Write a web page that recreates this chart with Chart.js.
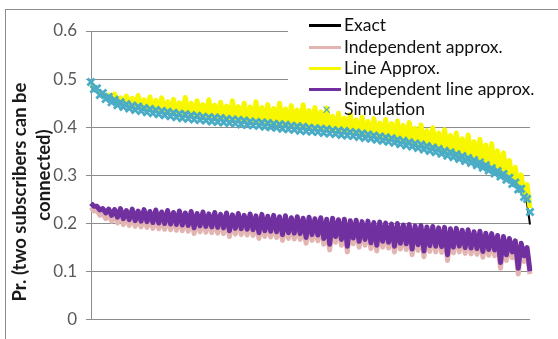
<!DOCTYPE html>
<html>
<head>
<meta charset="utf-8">
<script src="https://cdn.jsdelivr.net/npm/chart.js@4"></script>
<style>
  html, body { margin: 0; padding: 0; background: #fff; }
  #wrap { position: relative; width: 558px; height: 339px; overflow: hidden; font-family: Lato, "Open Sans", sans-serif; }
  #chart { position: absolute; left: 0; top: 0; }
  #frame { position: absolute; left: 5px; top: 9px; width: 700px; height: 500px; border: 1px solid #8c8c8c; }
  .ytitle { position: absolute; transform: translate(-50%, -50%) rotate(-90deg); white-space: nowrap;
            font-weight: bold; font-size: 18.5px; color: #1a1a1a; }
  #legendBg { position: absolute; left: 288px; top: 12px; width: 250px; height: 88px; background: #fff; }
  .lg-text { position: absolute; left: 344px; font-size: 17.5px; line-height: 20px; color: #111; white-space: nowrap; }
  .lg-line { position: absolute; left: 309px; width: 32px; height: 3px; }
  .lg-mark { position: absolute; left: 322px; font-size: 16px; line-height: 20px; color: #4bacc6; }
</style>
</head>
<body>
<div id="wrap">
  <div id="frame"></div>
  <canvas id="chart" width="558" height="339"></canvas>
  <div id="legendBg"></div>
  <div class="ytitle" style="left:19px; top:192px;">Pr. (two subscribers can be</div>
  <div class="ytitle" style="left:43px; top:175px;">connected)</div>
</div>
<script>
// Nombres y colores de las series
const seriesNames = ["Exact", "Independent approx.", "Line Approx.", "Independent line approx.", "Simulation"];
const seriesColors = ["#000000", "#e3b5b2", "#f7f700", "#7030a0", "#4bacc6"];
const yTicks = [0, 0.1, 0.2, 0.3, 0.4, 0.5, 0.6];

// Valores (150 puntos ordenados)
const exact = [
  0.492, 0.484, 0.477, 0.471, 0.466, 0.462, 0.459, 0.456, 0.453, 0.450,
  0.448, 0.446, 0.444, 0.443, 0.441, 0.440, 0.439, 0.437, 0.436, 0.435,
  0.434, 0.433, 0.432, 0.431, 0.430, 0.429, 0.428, 0.427, 0.426, 0.425,
  0.424, 0.423, 0.423, 0.422, 0.421, 0.420, 0.420, 0.419, 0.418, 0.418,
  0.417, 0.416, 0.416, 0.415, 0.415, 0.414, 0.413, 0.413, 0.412, 0.412,
  0.411, 0.410, 0.410, 0.409, 0.408, 0.408, 0.407, 0.407, 0.406, 0.405,
  0.405, 0.404, 0.403, 0.403, 0.402, 0.401, 0.401, 0.400, 0.399, 0.399,
  0.398, 0.397, 0.397, 0.396, 0.395, 0.395, 0.394, 0.394, 0.393, 0.392,
  0.392, 0.391, 0.390, 0.390, 0.389, 0.388, 0.388, 0.387, 0.386, 0.386,
  0.385, 0.384, 0.383, 0.382, 0.381, 0.380, 0.379, 0.378, 0.377, 0.376,
  0.375, 0.374, 0.373, 0.372, 0.370, 0.369, 0.368, 0.366, 0.365, 0.364,
  0.362, 0.361, 0.360, 0.358, 0.357, 0.355, 0.354, 0.352, 0.351, 0.349,
  0.347, 0.345, 0.344, 0.342, 0.340, 0.338, 0.336, 0.334, 0.332, 0.330,
  0.328, 0.325, 0.323, 0.320, 0.317, 0.314, 0.311, 0.308, 0.305, 0.302,
  0.299, 0.295, 0.291, 0.286, 0.281, 0.275, 0.268, 0.259, 0.242, 0.198
];

const independentApprox = [
  0.234, 0.226, 0.228, 0.217, 0.222, 0.210, 0.220, 0.205, 0.219, 0.201,
  0.221, 0.198, 0.217, 0.196, 0.220, 0.194, 0.216, 0.193, 0.219, 0.192,
  0.215, 0.190, 0.218, 0.189, 0.214, 0.188, 0.217, 0.187, 0.213, 0.186,
  0.216, 0.185, 0.212, 0.184, 0.215, 0.179, 0.211, 0.183, 0.214, 0.182,
  0.210, 0.181, 0.213, 0.180, 0.209, 0.179, 0.212, 0.173, 0.208, 0.178,
  0.211, 0.177, 0.207, 0.176, 0.210, 0.175, 0.206, 0.169, 0.209, 0.173,
  0.205, 0.172, 0.207, 0.171, 0.204, 0.165, 0.206, 0.169, 0.202, 0.168,
  0.204, 0.167, 0.201, 0.159, 0.203, 0.165, 0.200, 0.164, 0.202, 0.157,
  0.199, 0.145, 0.201, 0.161, 0.198, 0.155, 0.199, 0.141, 0.196, 0.158,
  0.197, 0.151, 0.194, 0.155, 0.195, 0.148, 0.192, 0.143, 0.193, 0.151,
  0.191, 0.149, 0.189, 0.141, 0.190, 0.147, 0.187, 0.146, 0.188, 0.135,
  0.185, 0.144, 0.186, 0.131, 0.183, 0.142, 0.184, 0.141, 0.181, 0.140,
  0.182, 0.123, 0.179, 0.139, 0.180, 0.141, 0.176, 0.138, 0.177, 0.137,
  0.173, 0.136, 0.174, 0.130, 0.170, 0.134, 0.169, 0.133, 0.165, 0.107,
  0.163, 0.123, 0.159, 0.129, 0.154, 0.095, 0.149, 0.121, 0.140, 0.095
];

const lineApprox = [
  0.488, 0.482, 0.476, 0.471, 0.468, 0.463, 0.467, 0.457, 0.469, 0.452,
  0.461, 0.450, 0.465, 0.447, 0.460, 0.444, 0.466, 0.442, 0.457, 0.439,
  0.463, 0.437, 0.456, 0.435, 0.461, 0.433, 0.453, 0.431, 0.458, 0.429,
  0.451, 0.427, 0.462, 0.426, 0.450, 0.424, 0.455, 0.423, 0.447, 0.421,
  0.457, 0.420, 0.446, 0.419, 0.452, 0.417, 0.444, 0.416, 0.455, 0.415,
  0.443, 0.414, 0.450, 0.412, 0.442, 0.411, 0.453, 0.410, 0.441, 0.409,
  0.447, 0.407, 0.439, 0.406, 0.450, 0.405, 0.438, 0.403, 0.445, 0.402,
  0.436, 0.401, 0.447, 0.399, 0.435, 0.398, 0.441, 0.397, 0.432, 0.396,
  0.440, 0.394, 0.423, 0.393, 0.429, 0.391, 0.419, 0.390, 0.426, 0.389,
  0.415, 0.387, 0.421, 0.385, 0.412, 0.383, 0.418, 0.380, 0.409, 0.379,
  0.416, 0.377, 0.408, 0.375, 0.413, 0.372, 0.404, 0.369, 0.410, 0.367,
  0.398, 0.364, 0.405, 0.361, 0.393, 0.358, 0.399, 0.355, 0.388, 0.352,
  0.395, 0.348, 0.383, 0.345, 0.388, 0.341, 0.376, 0.337, 0.384, 0.333,
  0.370, 0.328, 0.375, 0.323, 0.363, 0.317, 0.366, 0.311, 0.351, 0.305,
  0.347, 0.298, 0.331, 0.289, 0.317, 0.278, 0.301, 0.262, 0.281, 0.232
];

const independentLineApprox = [
  0.242, 0.236, 0.236, 0.228, 0.231, 0.222, 0.230, 0.217, 0.229, 0.213,
  0.231, 0.210, 0.227, 0.208, 0.230, 0.206, 0.226, 0.205, 0.229, 0.204,
  0.225, 0.202, 0.228, 0.201, 0.224, 0.200, 0.227, 0.199, 0.223, 0.198,
  0.226, 0.197, 0.222, 0.196, 0.225, 0.191, 0.221, 0.195, 0.224, 0.194,
  0.220, 0.193, 0.223, 0.192, 0.219, 0.191, 0.222, 0.185, 0.218, 0.190,
  0.221, 0.189, 0.217, 0.188, 0.220, 0.187, 0.216, 0.181, 0.219, 0.185,
  0.215, 0.184, 0.217, 0.183, 0.214, 0.177, 0.216, 0.181, 0.212, 0.180,
  0.214, 0.179, 0.211, 0.171, 0.213, 0.177, 0.210, 0.176, 0.212, 0.169,
  0.209, 0.157, 0.211, 0.173, 0.208, 0.167, 0.209, 0.153, 0.206, 0.170,
  0.207, 0.163, 0.204, 0.167, 0.205, 0.160, 0.202, 0.155, 0.203, 0.163,
  0.201, 0.161, 0.199, 0.153, 0.200, 0.159, 0.197, 0.158, 0.198, 0.147,
  0.195, 0.156, 0.196, 0.143, 0.193, 0.154, 0.194, 0.153, 0.191, 0.152,
  0.192, 0.135, 0.189, 0.151, 0.190, 0.153, 0.186, 0.150, 0.187, 0.149,
  0.183, 0.148, 0.184, 0.142, 0.180, 0.146, 0.179, 0.145, 0.175, 0.119,
  0.173, 0.135, 0.169, 0.141, 0.164, 0.107, 0.159, 0.133, 0.150, 0.101
];

const simulation = [
  0.494, 0.479, 0.481, 0.467, 0.471, 0.459, 0.463, 0.452, 0.457, 0.446,
  0.452, 0.442, 0.448, 0.439, 0.445, 0.436, 0.443, 0.434, 0.440, 0.431,
  0.438, 0.429, 0.436, 0.427, 0.434, 0.425, 0.432, 0.423, 0.430, 0.421,
  0.428, 0.419, 0.427, 0.418, 0.425, 0.416, 0.424, 0.415, 0.422, 0.414,
  0.421, 0.412, 0.420, 0.411, 0.419, 0.410, 0.417, 0.409, 0.416, 0.408,
  0.415, 0.406, 0.414, 0.405, 0.412, 0.404, 0.411, 0.403, 0.410, 0.401,
  0.409, 0.400, 0.407, 0.399, 0.406, 0.397, 0.405, 0.396, 0.403, 0.395,
  0.402, 0.393, 0.401, 0.392, 0.399, 0.391, 0.398, 0.390, 0.397, 0.388,
  0.396, 0.387, 0.394, 0.386, 0.393, 0.384, 0.392, 0.383, 0.390, 0.382,
  0.389, 0.380, 0.387, 0.378, 0.385, 0.376, 0.383, 0.374, 0.381, 0.372,
  0.379, 0.370, 0.377, 0.368, 0.374, 0.365, 0.372, 0.362, 0.369, 0.360,
  0.366, 0.357, 0.364, 0.354, 0.361, 0.351, 0.358, 0.348, 0.355, 0.345,
  0.351, 0.341, 0.348, 0.338, 0.344, 0.334, 0.340, 0.330, 0.336, 0.326,
  0.332, 0.321, 0.327, 0.316, 0.321, 0.310, 0.315, 0.304, 0.309, 0.298,
  0.303, 0.291, 0.295, 0.282, 0.285, 0.271, 0.272, 0.255, 0.251, 0.224
];

// Eje X: solo el indice de cada caso (sin etiquetas visibles)
const casos = exact.map((_, i) => i + 1);

const gridColor = "#8c8c8c";

function serieLinea(idx, datos, ancho, orden) {
  return {
    label: seriesNames[idx],
    data: datos,
    borderColor: seriesColors[idx],
    backgroundColor: seriesColors[idx],
    borderWidth: ancho,
    borderJoinStyle: "round",
    pointRadius: 0,
    tension: 0,
    fill: false,
    order: orden
  };
}

const ctx = document.getElementById("chart").getContext("2d");
new Chart(ctx, {
  type: "line",
  data: {
    labels: casos,
    datasets: [
      serieLinea(0, exact, 2, 5),
      serieLinea(1, independentApprox, 5, 4),
      serieLinea(2, lineApprox, 5, 3),
      serieLinea(3, independentLineApprox, 5, 2),
      {
        label: seriesNames[4],
        data: simulation,
        showLine: false,
        pointStyle: "crossRot",
        pointRadius: 5,
        pointBorderWidth: 2.8,
        borderColor: seriesColors[4],
        backgroundColor: seriesColors[4],
        order: 1
      }
    ]
  },
  options: {
    responsive: false,
    animation: false,
    layout: { padding: { left: 0, top: 31, right: 28, bottom: 9 } },
    plugins: { legend: { display: false }, tooltip: { enabled: false } },
    scales: {
      x: { display: false },
      y: {
        min: 0,
        max: 0.6,
        afterBuildTicks: s => { s.ticks = yTicks.map(v => ({ value: v })); },
        ticks: { color: "#595959", font: { family: "Lato", size: 17 }, padding: 9 },
        grid: { color: gridColor, tickColor: gridColor, tickLength: 5 },
        border: { color: gridColor },
        afterFit: s => { s.width = 91; }
      }
    }
  }
});

// Leyenda en HTML (arriba a la derecha)
const filas = [25, 47, 68, 89, 109];
const wrap = document.getElementById("wrap");
seriesNames.forEach((nombre, i) => {
  if (i < 4) {
    const l = document.createElement("div");
    l.className = "lg-line";
    l.style.top = (filas[i] - 1) + "px";
    l.style.background = seriesColors[i];
    wrap.appendChild(l);
  } else {
    const m = document.createElement("div");
    m.className = "lg-mark";
    m.style.top = (filas[i] - 10) + "px";
    m.textContent = "×";
    wrap.appendChild(m);
  }
  const t = document.createElement("div");
  t.className = "lg-text";
  t.style.top = (filas[i] - 10) + "px";
  t.textContent = nombre;
  wrap.appendChild(t);
});
</script>
</body>
</html>
